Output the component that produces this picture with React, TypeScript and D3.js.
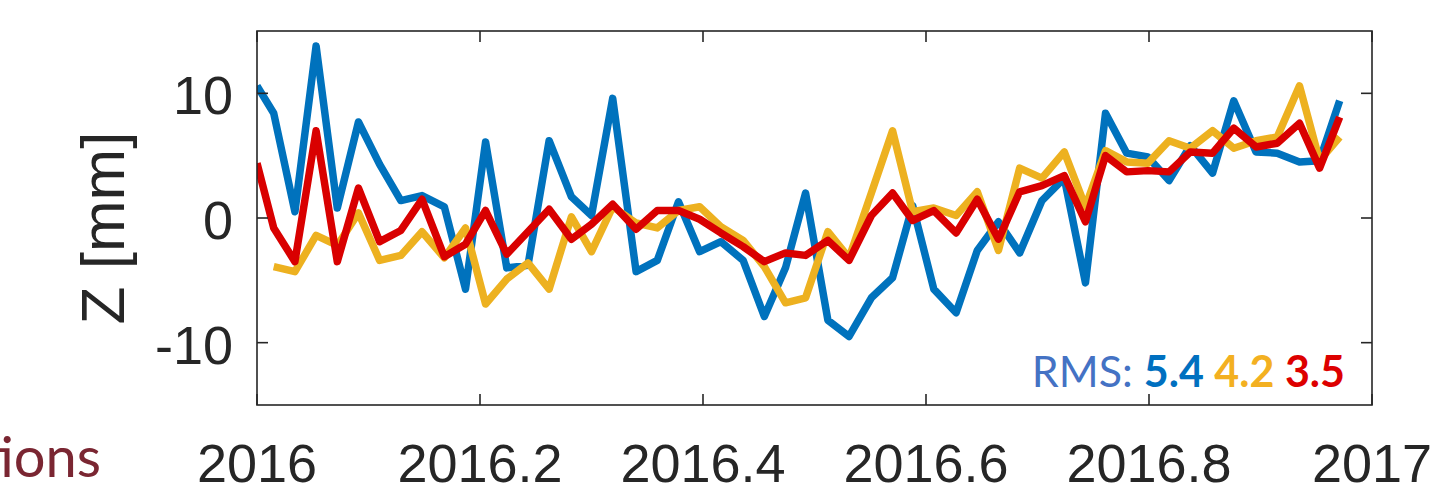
import React from "react";
import * as d3 from "d3";

// Decimal-year epochs of the samples
const dates: number[] = [
  2016.0, 2016.015, 2016.034, 2016.053, 2016.072, 2016.091, 2016.11, 2016.129, 2016.148, 2016.168,
  2016.187, 2016.205, 2016.224, 2016.243, 2016.262, 2016.282, 2016.3, 2016.319, 2016.34, 2016.359,
  2016.378, 2016.397, 2016.416, 2016.436, 2016.455, 2016.474, 2016.492, 2016.512, 2016.531, 2016.551,
  2016.57, 2016.588, 2016.607, 2016.627, 2016.646, 2016.665, 2016.684, 2016.704, 2016.724, 2016.743,
  2016.761, 2016.78, 2016.799, 2016.818, 2016.837, 2016.857, 2016.876, 2016.896, 2016.915, 2016.935,
  2016.953, 2016.971,
];

const blueZ: number[] = [
  10.6, 8.4, 0.5, 13.8, 0.8, 7.7, 4.3, 1.4, 1.8, 0.9,
  -5.7, 6.1, -4.0, -3.8, 6.2, 1.7, 0.2, 9.6, -4.3, -3.4,
  1.3, -2.7, -1.9, -3.4, -7.9, -4.0, 2.0, -8.2, -9.5, -6.4,
  -4.8, 1.0, -5.7, -7.6, -2.6, -0.3, -2.8, 1.4, 3.2, -5.2,
  8.4, 5.2, 4.9, 3.0, 5.8, 3.6, 9.4, 5.3, 5.2, 4.5,
  4.6, 9.4,
];

const orangeZ: (number | null)[] = [
  null, -3.9, -4.3, -1.4, -2.2, 0.4, -3.4, -3.0, -1.1, -3.2,
  -0.8, -6.9, -4.9, -3.6, -5.7, 0.1, -2.7, 0.9, -0.4, -0.8,
  0.6, 0.9, -0.7, -1.8, -3.9, -6.8, -6.4, -1.1, -3.2, 2.0,
  7.0, 0.5, 0.8, 0.2, 2.1, -2.6, 4.0, 3.2, 5.3, 0.9,
  5.4, 4.5, 4.4, 6.2, 5.6, 7.0, 5.6, 6.2, 6.5, 10.6,
  4.6, 6.5,
];

const redZ: number[] = [
  4.4, -0.8, -3.5, 7.0, -3.5, 2.4, -1.9, -1.0, 1.5, -3.1,
  -2.1, 0.6, -2.9, -1.1, 0.7, -1.7, -0.5, 1.1, -0.9, 0.6,
  0.6, -0.1, -1.2, -2.3, -3.5, -2.8, -3.0, -1.8, -3.4, 0.2,
  2.0, -0.2, 0.6, -1.2, 1.5, -1.7, 2.1, 2.6, 3.4, -0.3,
  5.0, 3.7, 3.8, 3.7, 5.3, 5.2, 7.2, 5.7, 6.0, 7.6,
  4.0, 8.1,
];

const xTicks: number[] = [2016, 2016.2, 2016.4, 2016.6, 2016.8, 2017];
const xTickLabels: string[] = ["2016", "2016.2", "2016.4", "2016.6", "2016.8", "2017"];
const yTicks: number[] = [-10, 0, 10];
const yTickLabels: string[] = ["-10", "0", "10"];
const rmsValues: string[] = ["5.4", "4.2", "3.5"];

const W = 1445;
const H = 488;
const plot = { left: 257, right: 1372, top: 31, bottom: 405 };

const seriesColors = ["#0072BD", "#EDB120", "#D90000"];
const rmsColors = ["#0070C0", "#F3B021", "#DD0000"];

export default function App() {
  const x = d3.scaleLinear().domain([2016, 2017]).range([plot.left, plot.right]);
  const y = d3.scaleLinear().domain([-15, 15]).range([plot.bottom, plot.top]);

  const mk = (vals: (number | null)[]) =>
    d3
      .line<number>()
      .defined((_, i) => vals[i] !== null && vals[i] !== undefined)
      .x((d) => x(d))
      .y((_, i) => y(vals[i] as number))(dates) || "";

  const series = [blueZ, orangeZ, redZ];
  const axisColor = "#262626";
  const tickLen = 11;

  return (
    <div style={{ position: "absolute", left: 0, top: 0, width: W, height: H, background: "#fff" }}>
      <svg width={W} height={H} style={{ display: "block" }}>
        <defs>
          <clipPath id="plotclip">
            <rect x={plot.left} y={plot.top} width={plot.right - plot.left} height={plot.bottom - plot.top} />
          </clipPath>
        </defs>
        <rect x={0} y={0} width={W} height={H} fill="#fff" />

        {/* series */}
        <g clipPath="url(#plotclip)">
          {series.map((vals, k) => (
            <path
              key={k}
              d={mk(vals)}
              fill="none"
              stroke={seriesColors[k]}
              strokeWidth={7.5}
              strokeLinejoin="round"
              strokeLinecap="butt"
            />
          ))}
        </g>

        {/* frame */}
        <rect
          x={plot.left}
          y={plot.top}
          width={plot.right - plot.left}
          height={plot.bottom - plot.top}
          fill="none"
          stroke={axisColor}
          strokeWidth={1.6}
        />

        {/* x ticks */}
        {xTicks.map((t, i) => (
          <g key={"xt" + i}>
            <line x1={x(t)} x2={x(t)} y1={plot.bottom} y2={plot.bottom - tickLen} stroke={axisColor} strokeWidth={1.6} />
            <line x1={x(t)} x2={x(t)} y1={plot.top} y2={plot.top + tickLen} stroke={axisColor} strokeWidth={1.6} />
            <text
              x={x(t)}
              y={482}
              textAnchor="middle"
              fontFamily="'Liberation Sans', Arial, sans-serif"
              fontSize={54}
              fill={axisColor}
            >
              {xTickLabels[i]}
            </text>
          </g>
        ))}

        {/* y ticks */}
        {yTicks.map((t, i) => (
          <g key={"yt" + i}>
            <line x1={plot.left} x2={plot.left + tickLen} y1={y(t)} y2={y(t)} stroke={axisColor} strokeWidth={1.6} />
            <line x1={plot.right} x2={plot.right - tickLen} y1={y(t)} y2={y(t)} stroke={axisColor} strokeWidth={1.6} />
            <text
              x={233}
              y={y(t) + 21}
              textAnchor="end"
              fontFamily="'Liberation Sans', Arial, sans-serif"
              fontSize={54}
              fill={axisColor}
            >
              {yTickLabels[i]}
            </text>
          </g>
        ))}

        {/* y label */}
        <text
          transform={`translate(124, ${228}) rotate(-90)`}
          textAnchor="middle"
          fontFamily="'Liberation Sans', Arial, sans-serif"
          fontSize={62}
          fill={axisColor}
        >
          Z [mm]
        </text>

        {/* RMS annotation */}
        <text
          x={1345}
          y={387}
          textAnchor="end"
          fontFamily="Lato, 'Open Sans', sans-serif"
          fontSize={43}
        >
          <tspan fill="#4472C4">RMS: </tspan>
          {rmsValues.map((v, i) => (
            <tspan key={i} fill={rmsColors[i]} fontWeight="bold">
              {(i > 0 ? " " : "") + v}
            </tspan>
          ))}
        </text>

        {/* cropped slide text */}
        <text
          x={101}
          y={477}
          textAnchor="end"
          fontFamily="Lato, 'Open Sans', sans-serif"
          fontSize={56}
          fill="#7A2632"
        >
          tions
        </text>
      </svg>
    </div>
  );
}
